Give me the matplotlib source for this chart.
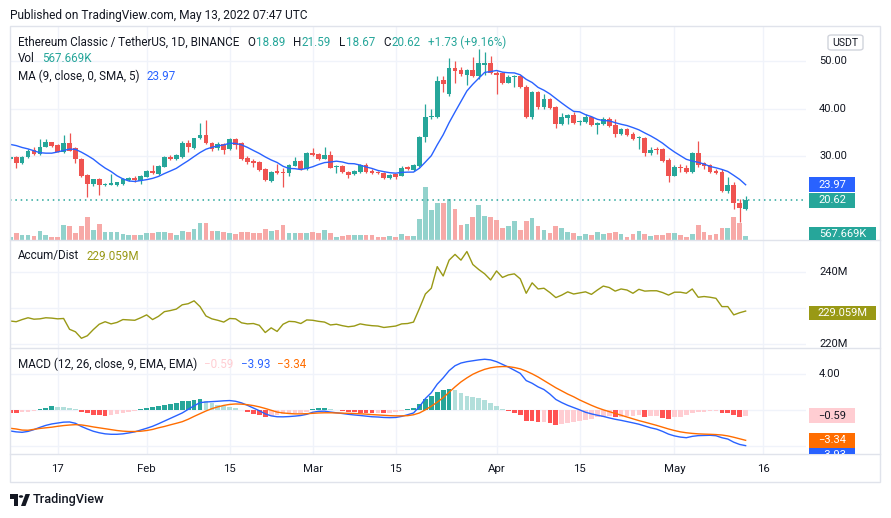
import matplotlib
matplotlib.use("Agg")
import matplotlib.pyplot as plt
import numpy as np
import pandas as pd
from matplotlib.patches import Rectangle, FancyBboxPatch, Polygon, Circle
from matplotlib.transforms import Bbox, TransformedBbox

plt.rcParams['font.family'] = ['Roboto', 'DejaVu Sans']

# ---- data (ETC/USDT daily) ----
start_date = "2022-01-09"

opens = [29.3, 29.86, 28.45, 29.7, 31.3, 30.35, 32.0, 32.9, 32.3, 30.8,
         32.7, 31.6, 29.3, 26.0, 24.1, 25.1, 23.9, 23.9, 23.9, 24.1,
         24.95, 25.45, 24.8, 25.64, 26.84, 26.2, 27.75, 29.86, 29.44, 29.7,
         32.67, 31.6, 33.7, 34.43, 32.67, 31.6, 32.46, 31.4, 33.5, 32.67,
         29.58, 29.0, 28.73, 27.2, 24.8, 26.75, 26.6, 26.35, 27.96, 28.95,
         27.33, 30.56, 30.4, 29.44, 30.2, 27.6, 27.96, 26.7, 26.13, 26.7,
         28.1, 26.9, 26.7, 26.5, 25.3, 26.2, 25.85, 27.6, 27.05, 27.9,
         33.94, 38.16, 38.3, 46.0, 43.0, 48.5, 48.1, 47.1, 48.1, 46.9,
         49.3, 49.55, 47.58, 47.44, 45.47, 46.6, 46.88, 44.63, 38.16, 43.57,
         40.27, 42.0, 40.34, 36.75, 38.0, 38.65, 37.1, 37.17, 38.16, 36.6,
         36.75, 37.74, 36.54, 34.64, 35.7, 34.64, 33.73, 33.87, 30.56, 31.48,
         31.4, 29.16, 25.85, 27.75, 27.54, 26.7, 30.7, 28.45, 28.1, 26.84,
         26.7, 22.7, 23.9, 20.15, 18.89]
highs = [30.1, 30.1, 29.9, 31.4, 31.85, 33.5, 33.6, 33.0, 32.5, 34.4,
         34.9, 31.9, 29.5, 26.3, 25.2, 25.3, 24.3, 26.3, 24.6, 25.4,
         25.6, 25.8, 25.9, 27.0, 28.1, 28.1, 30.1, 30.3, 30.5, 33.2,
         33.4, 33.9, 37.0, 37.6, 33.0, 33.0, 32.8, 33.7, 33.8, 33.0,
         30.0, 29.3, 29.0, 27.4, 26.9, 28.4, 27.5, 28.3, 29.86, 29.1,
         30.9, 31.6, 30.6, 31.8, 31.1, 28.2, 28.1, 26.9, 27.0, 28.3,
         28.6, 27.2, 26.9, 26.6, 26.2, 26.3, 27.9, 27.8, 28.3, 34.3,
         41.0, 39.9, 46.8, 46.9, 50.6, 50.0, 48.7, 48.4, 50.95, 52.6,
         52.0, 51.0, 47.9, 47.7, 47.0, 47.1, 47.1, 44.9, 43.8, 43.8,
         43.0, 42.2, 40.6, 39.0, 38.9, 39.35, 37.7, 38.8, 38.44, 37.1,
         38.16, 38.16, 37.74, 35.9, 35.9, 35.0, 34.2, 34.0, 31.8, 31.97,
         31.6, 29.65, 28.1, 28.24, 28.1, 30.9, 33.16, 28.73, 28.3, 27.2,
         27.2, 25.64, 24.44, 20.93, 21.59]
lows = [29.1, 27.4, 28.3, 29.5, 30.2, 30.2, 31.8, 32.0, 30.8, 30.7,
        31.0, 28.5, 25.6, 21.4, 23.7, 21.8, 23.6, 23.8, 23.7, 23.9,
        24.8, 24.6, 24.1, 25.5, 26.1, 25.9, 27.6, 29.2, 29.2, 29.5,
        30.9, 31.4, 33.5, 32.5, 31.0, 31.3, 30.4, 31.2, 31.5, 29.2,
        28.3, 27.6, 26.9, 24.7, 24.5, 26.2, 23.5, 25.85, 27.8, 27.0,
        27.1, 30.0, 29.2, 29.3, 27.4, 26.5, 26.4, 25.4, 25.9, 26.5,
        26.4, 26.3, 26.1, 25.1, 25.1, 25.15, 25.7, 27.0, 26.9, 27.7,
        33.0, 37.9, 38.1, 43.4, 42.7, 45.3, 46.9, 45.0, 46.7, 46.3,
        47.1, 47.2, 43.0, 45.2, 45.3, 44.5, 44.3, 38.0, 37.9, 40.0,
        40.0, 40.0, 36.0, 36.5, 36.7, 36.7, 36.5, 37.0, 36.3, 34.64,
        36.5, 36.1, 33.94, 34.4, 34.2, 33.4, 31.48, 30.0, 30.2, 30.42,
        28.8, 24.44, 25.7, 26.7, 26.5, 26.5, 27.6, 27.2, 26.34, 26.2,
        22.5, 22.1, 18.75, 16.14, 18.67]
closes = [29.86, 28.45, 29.86, 31.1, 30.4, 32.0, 32.9, 32.2, 30.9, 32.7,
          31.1, 29.3, 25.8, 24.1, 25.1, 23.9, 24.2, 24.4, 24.6, 25.15,
          25.36, 24.85, 25.8, 26.84, 26.35, 27.9, 29.86, 29.44, 30.14, 32.8,
          31.97, 33.7, 34.43, 32.67, 31.55, 32.46, 31.27, 33.5, 32.3, 29.37,
          28.8, 28.6, 27.05, 24.94, 26.7, 26.45, 26.35, 28.1, 28.95, 27.2,
          30.7, 30.2, 29.37, 30.2, 27.54, 27.96, 26.55, 25.99, 26.84, 28.1,
          26.7, 26.5, 26.35, 25.3, 26.0, 25.64, 27.54, 27.26, 28.17, 34.1,
          38.16, 38.44, 45.9, 45.1, 48.6, 47.9, 47.2, 48.1, 46.9, 49.55,
          49.55, 47.44, 47.16, 45.47, 46.74, 46.88, 44.49, 38.3, 43.57, 40.27,
          41.95, 40.2, 36.75, 38.16, 38.65, 36.9, 37.45, 38.16, 36.54, 36.9,
          37.74, 36.33, 34.64, 35.63, 34.43, 33.59, 33.94, 30.56, 31.27, 31.27,
          29.0, 25.85, 27.75, 27.4, 26.7, 30.7, 28.1, 27.96, 26.7, 26.48,
          22.7, 23.9, 20.0, 18.96, 20.62]
volume_k = [470, 1040, 710, 710, 610, 1280, 710, 470, 470, 2130,
            1990, 990, 1990, 3270, 1420, 2270, 1180, 1180, 1140, 850,
            710, 780, 670, 950, 950, 1090, 1180, 950, 710, 1280,
            1180, 1560, 2370, 2460, 1280, 1280, 1090, 950, 810, 1180,
            1090, 950, 950, 1520, 1280, 1420, 2130, 1040, 1040, 1040,
            1040, 1180, 950, 1420, 950, 470, 570, 710, 710, 710,
            710, 710, 470, 470, 570, 470, 850, 570, 570, 2980,
            7570, 4260, 5300, 5210, 5820, 4400, 2130, 2270, 3310, 4970,
            3450, 3220, 2840, 1660, 1990, 2700, 1420, 2700, 3080, 1990,
            1420, 1040, 1990, 1660, 1180, 1040, 570, 850, 710, 1180,
            850, 1040, 1180, 850, 380, 850, 1280, 850, 570, 710,
            710, 1040, 1040, 710, 470, 850, 2130, 1180, 710, 850,
            1750, 1750, 3310, 2460, 567.669]
# first 8 MA(9) values (their closes lie before the visible window)
ma_head = [32.45, 32.2, 31.8, 31.5, 31.1, 30.7, 30.6, 30.6]

ad_m = [226.3, 226.1, 226.7, 227.2, 226.8, 226.9, 227.2, 227.1, 226.9, 227.0,
        224.0, 223.3, 221.5, 222.2, 223.9, 225.4, 226.1, 225.5, 225.9, 226.7,
        226.6, 226.5, 227.2, 228.0, 226.7, 227.6, 228.9, 229.2, 229.6, 230.8,
        231.1, 231.9, 230.3, 227.7, 226.9, 226.5, 226.0, 227.0, 226.9, 225.8,
        225.5, 225.6, 225.1, 223.1, 224.4, 223.4, 225.4, 226.2, 226.1, 225.6,
        226.6, 226.5, 226.2, 226.0, 225.2, 225.4, 225.0, 224.7, 224.9, 225.5,
        225.2, 225.0, 224.9, 224.5, 224.7, 224.9, 225.5, 225.6, 226.0, 229.8,
        233.8, 235.4, 241.4, 238.8, 243.2, 244.8, 243.2, 245.6, 242.0, 240.6,
        239.4, 237.7, 240.2, 238.4, 239.1, 239.4, 238.0, 234.0, 236.9, 235.2,
        235.4, 234.2, 232.8, 233.5, 234.4, 233.8, 234.1, 234.4, 233.7, 234.9,
        236.0, 235.6, 234.6, 235.2, 234.9, 234.0, 235.1, 234.6, 234.7, 234.7,
        234.2, 233.5, 234.3, 234.3, 234.0, 235.2, 232.9, 233.1, 232.9, 232.6,
        230.3, 230.3, 228.0, 228.6, 229.059]

macd_line = [-2.3, -2.4, -2.45, -2.35, -2.15, -1.9, -1.68, -1.52, -1.42, -1.32,
             -1.3, -1.45, -1.8, -2.08, -2.33, -2.5, -2.62, -2.67, -2.67, -2.62,
             -2.52, -2.4, -2.2, -2.0, -1.78, -1.5, -1.2, -0.9, -0.6, -0.3,
             0.1, 0.5, 0.85, 0.92, 0.96, 1.0, 1.05, 1.08, 1.0, 0.82,
             0.55, 0.25, -0.05, -0.4, -0.62, -0.72, -0.73, -0.7, -0.65, -0.58,
             -0.45, -0.22, -0.12, -0.1, -0.2, -0.28, -0.36, -0.45, -0.52, -0.58,
             -0.65, -0.72, -0.75, -0.8, -0.82, -0.8, -0.68, -0.5, -0.3, 0.4,
             1.3, 1.95, 2.9, 3.6, 4.4, 4.95, 5.25, 5.4, 5.5, 5.6,
             5.67, 5.6, 5.4, 5.1, 4.8, 4.45, 4.1, 3.3, 3.0, 2.6,
             2.3, 1.8, 1.2, 0.85, 0.55, 0.3, 0.05, -0.22, -0.4, -0.55,
             -0.68, -0.85, -1.0, -1.12, -1.26, -1.4, -1.55, -1.75, -1.95, -2.1,
             -2.35, -2.65, -2.85, -2.98, -3.05, -2.9, -2.82, -2.8, -2.78, -2.83,
             -3.05, -3.2, -3.55, -3.8, -3.93]
signal_line = [-2.0, -2.08, -2.2, -2.22, -2.12, -2.02, -1.95, -1.88, -1.78, -1.7,
               -1.64, -1.6, -1.63, -1.73, -1.85, -1.95, -2.05, -2.15, -2.25, -2.32,
               -2.36, -2.36, -2.33, -2.25, -2.13, -1.95, -1.8, -1.62, -1.45, -1.27,
               -1.0, -0.68, -0.38, -0.08, 0.18, 0.38, 0.54, 0.65, 0.7, 0.68,
               0.62, 0.52, 0.38, 0.2, 0.0, -0.2, -0.3, -0.36, -0.4, -0.4,
               -0.38, -0.34, -0.3, -0.28, -0.28, -0.3, -0.32, -0.34, -0.36, -0.39,
               -0.43, -0.48, -0.52, -0.56, -0.6, -0.62, -0.62, -0.6, -0.5, -0.3,
               0.05, 0.45, 0.9, 1.4, 2.0, 2.6, 3.15, 3.6, 4.0, 4.3,
               4.55, 4.72, 4.82, 4.86, 4.85, 4.75, 4.6, 4.35, 4.05, 3.7,
               3.3, 2.9, 2.5, 2.15, 1.8, 1.5, 1.15, 0.85, 0.55, 0.28,
               0.05, -0.15, -0.35, -0.55, -0.75, -0.95, -1.15, -1.32, -1.5, -1.68,
               -1.88, -2.08, -2.25, -2.4, -2.5, -2.57, -2.62, -2.65, -2.67, -2.7,
               -2.75, -2.85, -3.0, -3.17, -3.34]
macd_hist = [-0.35, -0.35, -0.22, -0.15, -0.06, 0.12, 0.3, 0.42, 0.38, 0.38,
             0.3, 0.15, -0.15, -0.32, -0.48, -0.58, -0.6, -0.52, -0.42, -0.32,
             -0.2, -0.08, 0.12, 0.22, 0.33, 0.42, 0.6, 0.72, 0.85, 0.98,
             1.08, 1.15, 1.25, 0.98, 0.78, 0.6, 0.48, 0.35, 0.22, 0.06,
             -0.2, -0.38, -0.55, -0.72, -0.68, -0.52, -0.45, -0.38, -0.32, -0.26,
             -0.16, 0.14, 0.22, 0.28, 0.12, 0.05, -0.05, -0.18, -0.22, -0.25,
             -0.3, -0.32, -0.28, -0.3, -0.26, -0.22, -0.06, 0.12, 0.2, 0.65,
             1.25, 1.6, 2.0, 2.2, 2.4, 2.2, 1.9, 1.63, 1.5, 1.33,
             1.15, 0.85, 0.48, 0.15, -0.1, -0.3, -0.5, -1.15, -1.15, -1.35,
             -1.3, -1.45, -1.62, -1.55, -1.45, -1.3, -1.2, -1.05, -0.92, -0.8,
             -0.7, -0.6, -0.8, -0.7, -0.62, -0.6, -0.55, -0.8, -0.68, -0.6,
             -0.88, -0.95, -0.8, -0.7, -0.55, -0.35, -0.22, -0.15, -0.12, -0.11,
             -0.3, -0.35, -0.55, -0.7, -0.59]

tick_dates = ["2022-01-17", "2022-02-01", "2022-02-15", "2022-03-01", "2022-03-15",
              "2022-04-01", "2022-04-15", "2022-05-01", "2022-05-16"]
tick_labels = ["17", "Feb", "15", "Mar", "15", "Apr", "15", "May", "16"]

# ---- colours ----
UP, DOWN = '#26A69A', '#EF5350'
VOL_UP, VOL_DN = '#92D2CC', '#F7A9A7'
TXT = '#131722'
GRID = '#F0F3FA'
BORDER = '#E0E3EB'
BLUE, ORANGE, OLIVE = '#2962FF', '#FF6D00', '#999915'

W, H = 891, 518
fig = plt.figure(figsize=(W / 100, H / 100), dpi=100)
fig.patch.set_facecolor('white')


def rect(x0, y0, x1, y1):
    return [x0 / W, 1 - y1 / H, (x1 - x0) / W, (y1 - y0) / H]


def clip_box(x0, y0, x1, y1):
    return TransformedBbox(Bbox([[x0 / W, 1 - y1 / H], [x1 / W, 1 - y0 / H]]), fig.transFigure)


PL, PR, FR = 10, 806, 880
ax_v = fig.add_axes(rect(PL, 26, PR, 240))
ax_p = fig.add_axes(rect(PL, 26, PR, 240), sharex=ax_v)
ax_ad = fig.add_axes(rect(PL, 240, PR, 348), sharex=ax_v)
ax_m = fig.add_axes(rect(PL, 348, PR, 454), sharex=ax_v)
for a in (ax_v, ax_p, ax_ad, ax_m):
    for s in a.spines.values():
        s.set_visible(False)
    a.tick_params(left=False, bottom=False, labelleft=False, labelbottom=False)
ax_p.patch.set_alpha(0)

n = len(closes)
idx = np.arange(n)
o, h, l, c = map(np.array, (opens, highs, lows, closes))
up = c >= o
ax_v.set_xlim(-0.04, 134.18)

# vertical grid
t0 = pd.Timestamp(start_date)
tick_idx = [(pd.Timestamp(d) - t0).days for d in tick_dates]
for a in (ax_v, ax_ad, ax_m):
    for t in tick_idx:
        a.axvline(t, color=GRID, lw=1, zorder=0)

# volume
ax_v.bar(idx, volume_k, width=0.8, color=np.where(up, VOL_UP, VOL_DN), zorder=1)
ax_v.set_ylim(0, 30400)

# candles
ax_p.set_ylim(12.28, 57.43)
for p in (30, 40, 50):
    ax_p.axhline(p, color=GRID, lw=1, zorder=0)
col = np.where(up, UP, DOWN)
ax_p.vlines(idx, l, h, colors=col, lw=0.9, zorder=2)
body = np.maximum(np.abs(c - o), 0.08)
ax_p.bar(idx, body, bottom=np.minimum(o, c), width=0.8, color=col, zorder=3)
ma = pd.Series(closes).rolling(9).mean().to_numpy()
ma[:8] = ma_head
ax_p.plot(idx, ma, color=BLUE, lw=1.0, zorder=4)
ax_p.axhline(closes[-1], color=UP, lw=1.1, ls=(0, (1, 2.5)), zorder=1)

# accumulation / distribution
ax_ad.set_ylim(218.8, 248.8)
for v in (220, 230, 240):
    ax_ad.axhline(v, color=GRID, lw=1, zorder=0)
ax_ad.plot(idx, ad_m, color=OLIVE, lw=1.0, zorder=3)

# MACD
ax_m.set_ylim(-4.86, 6.92)
for v in (-4, 0, 4):
    ax_m.axhline(v, color=GRID, lw=1, zorder=0)
hist = np.array(macd_hist)
hcol = []
for i, v in enumerate(hist):
    prev = hist[i - 1] if i else v + 0.01
    if v >= 0:
        hcol.append('#26A69A' if v > prev else '#B2DFDB')
    else:
        hcol.append('#FFCDD2' if v > prev else '#FF5252')
ax_m.bar(idx, hist, width=0.8, color=hcol, zorder=2)
ax_m.plot(idx, macd_line, color=BLUE, lw=1.0, zorder=3)
ax_m.plot(idx, signal_line, color=ORANGE, lw=1.0, zorder=4)

# frame and pane separators
fig.add_artist(Rectangle((PL / W, 1 - 482 / H), (FR - PL) / W, (482 - 26) / H,
                         transform=fig.transFigure, fill=False, ec=BORDER, lw=1))
for yy in (240, 348, 454):
    fig.add_artist(plt.Line2D([PL / W, FR / W], [1 - yy / H] * 2, color=BORDER, lw=1))

# time axis labels
for t, lab in zip(tick_idx, tick_labels):
    xp = ax_m.transData.transform((t, 0))[0]
    fig.text(xp / W, 1 - 469 / H, lab, ha='center', va='center', fontsize=8.2, color=TXT)

# right scale labels
panes = {ax_p: (26, 240), ax_v: (26, 240), ax_ad: (240, 348), ax_m: (348, 454)}


def scale_label(ax, value, text):
    y0, y1 = panes[ax]
    yp = ax.transData.transform((0, value))[1]
    t = fig.text(819 / W, yp / H, text, ha='left', va='center', fontsize=8.0, color=TXT)
    t.set_clip_box(clip_box(PL, y0, FR, y1))
    t.set_clip_on(True)


def value_box(ax, value, text, fc, tc, width, shift=0.0):
    y0, y1 = panes[ax]
    yp = ax.transData.transform((0, value))[1] - shift
    cb = clip_box(PL, y0, FR, y1)
    r = Rectangle((809 / W, (yp - 7.2) / H), width / W, 14.4 / H, transform=fig.transFigure,
                  fc=fc, ec='none', zorder=5)
    r.set_clip_box(cb)
    r.set_clip_on(True)
    fig.add_artist(r)
    t = fig.text((809 + width / 2) / W, yp / H, text, ha='center', va='center',
                 fontsize=8.0, color=tc, zorder=6)
    t.set_clip_box(cb)
    t.set_clip_on(True)
    return yp


# scale labels that are not hidden behind value boxes in the original
for p in (30, 40, 50):
    scale_label(ax_p, p, f"{p:.2f}")
scale_label(ax_ad, 240, "240M")
scale_label(ax_ad, 220, "220M")
scale_label(ax_m, 4, "4.00")

value_box(ax_p, ma[-1] + 0.03, "23.97", BLUE, 'white', 46)
value_box(ax_p, closes[-1], f"{closes[-1]:.2f}", UP, 'white', 46)
value_box(ax_v, volume_k[-1], "567.669K", UP, 'white', 67, shift=-2)
value_box(ax_ad, ad_m[-1], "229.059M", OLIVE, 'white', 67, shift=2)
value_box(ax_m, macd_hist[-1], "\u22120.59", '#FFCDD2', TXT, 46)
yo = value_box(ax_m, signal_line[-1], "\u22123.34", ORANGE, 'white', 46)
value_box(ax_m, macd_line[-1], "\u22123.93", BLUE, 'white', 46,
          shift=ax_m.transData.transform((0, macd_line[-1]))[1] - (yo - 14.4))

# USDT currency button
fig.add_artist(FancyBboxPatch((828 / W, 1 - 50 / H), 35 / W, 15 / H, transform=fig.transFigure,
                              boxstyle="round,pad=0,rounding_size=0.004", fc='white', ec='#D1D4DC', lw=1))
fig.text(845.5 / W, 1 - 42.5 / H, "USDT", ha='center', va='center', fontsize=7.6, color=TXT)


# legends
def runs(x, y, parts, size=8.4):
    r = fig.canvas.get_renderer()
    for txt, colr, gap in parts:
        t = fig.text(x / W, 1 - y / H, txt, color=colr, fontsize=size, ha='left', va='center')
        x += t.get_window_extent(r).width + gap


fig.text(10 / W, 1 - 15 / H, "Published on TradingView.com, May 13, 2022 07:47 UTC",
         fontsize=8.6, color=TXT, ha='left', va='center')
runs(18, 42, [("Ethereum Classic / TetherUS, 1D, BINANCE", TXT, 8),
              ("O", TXT, 0.5), ("18.89", UP, 8), ("H", TXT, 0.5), ("21.59", UP, 8),
              ("L", TXT, 0.5), ("18.67", UP, 8), ("C", TXT, 0.5), ("20.62", UP, 8),
              ("+1.73 (+9.16%)", UP, 0)])
runs(18, 59, [("Vol", TXT, 7), ("567.669K", UP, 0)])
runs(18, 76, [("MA (9, close, 0, SMA, 5)", TXT, 7), ("23.97", BLUE, 0)])
runs(18, 256, [("Accum/Dist", TXT, 7), ("229.059M", OLIVE, 0)])
runs(18, 364, [("MACD (12, 26, close, 9, EMA, EMA)", TXT, 7), ("\u22120.59", '#FFCDD2', 7),
               ("\u22123.93", BLUE, 7), ("\u22123.34", ORANGE, 0)])

# footer logo
fig.add_artist(Rectangle((10 / W, 1 - 498.5 / H), 7.5 / W, 4.5 / H, transform=fig.transFigure,
                         fc=TXT, ec='none'))
fig.add_artist(Rectangle((13.5 / W, 1 - 506 / H), 4 / W, 10 / H, transform=fig.transFigure,
                         fc=TXT, ec='none'))
fig.add_artist(Circle((21 / W, 1 - 496.5 / H), 2.2 / W, transform=fig.transFigure, fc=TXT, ec='none'))
fig.add_artist(Polygon([(21 / W, 1 - 506 / H), (25.5 / W, 1 - 494 / H), (30 / W, 1 - 494 / H),
                        (25.5 / W, 1 - 506 / H)], closed=True, transform=fig.transFigure,
                       fc=TXT, ec='none'))
fig.text(33 / W, 1 - 500 / H, "TradingView", fontsize=9.2, color=TXT, ha='left', va='center',
         fontweight='medium')

fig.savefig("out.png", dpi=100)
